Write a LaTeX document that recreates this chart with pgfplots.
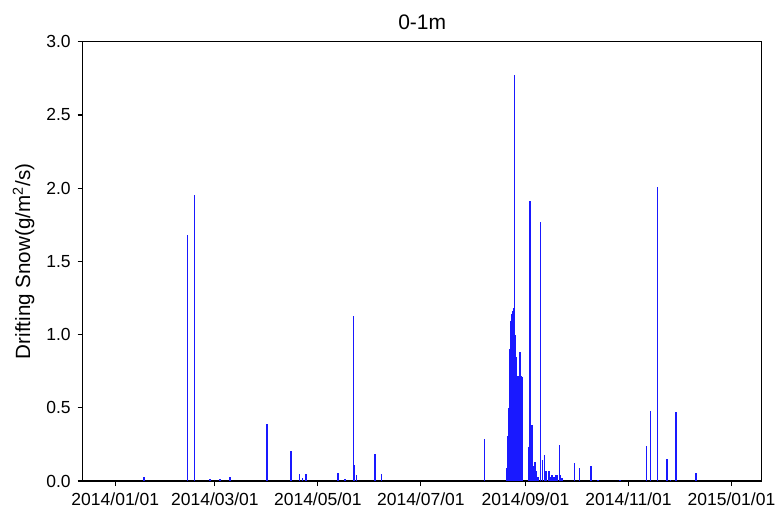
\documentclass[border=0pt]{standalone}
\usepackage{pgfplots}
\pgfplotsset{compat=1.18}
\usepackage{fontspec}
\setmainfont{Liberation Sans}
\begin{document}
\begin{tikzpicture}
\begin{axis}[
  name=ax,
  scale only axis,
  width=339.5bp, height=219.65bp,
  xmin=-19.3, xmax=382.9,
  ymin=0, ymax=3,
  xtick={0,59,120,181,243,304,365},
  xticklabels={2014/01/01,2014/03/01,2014/05/01,2014/07/01,2014/09/01,2014/11/01,2015/01/01},
  ytick={0,0.5,1,1.5,2,2.5,3},
  yticklabel style={/pgf/number format/.cd, fixed, fixed zerofill, precision=1, assume math mode=true},
  tick pos=left,
  tick align=outside,
  major tick length=2.5bp,
  axis line style={line width=0.6bp},
  every tick/.style={black, line width=0.6bp},
  tick label style={font=\fontsize{8.75bp}{10bp}\selectfont},
  title={0-1m},
  every axis title/.style={font=\fontsize{10.5bp}{12bp}\selectfont, at={(0.5,1)}, anchor=base, yshift=6.2bp},
  ylabel={Drifting Snow(g/m\textsuperscript{2}/s)},
  every axis y label/.style={font=\fontsize{10.3bp}{12bp}\selectfont, at={([xshift=-29.6bp]axis description cs:0,0.5)}, anchor=center, rotate=90},
]
\addplot[ycomb, no marks, color=blue!90!white, line width=0.75bp] coordinates {
(17,0.03) (42.9,1.68) (47.0,1.95) (56,0.012) (62,0.012) (68,0.03)
(90,0.39) (104,0.205) (109,0.045) (111,0.02) (113,0.05) (132,0.055) (136,0.015)
(141.0,1.13) (141.8,0.11) (143,0.04) (153.9,0.185) (157.8,0.05)
(218.8,0.29)
(231.9,0.087) (232.3,0.2) (232.7,0.31) (233.1,0.5) (233.5,0.67) (233.9,0.9)
(234.3,1.09) (234.7,1.13) (235.1,1.14) (235.5,1.16) (235.9,1.18) (236.5,2.77)
(236.9,1.0) (237.3,0.85) (237.7,0.8) (238.1,0.72) (238.5,0.71) (238.9,0.72)
(239.3,0.72) (239.7,0.88) (240.1,0.75) (240.5,0.72) (240.9,0.71) (241.3,0.05)
(244.7,0.23) (245.7,1.91) (246.3,0.2) (246.9,0.38) (247.6,0.1) (248.6,0.13)
(249.6,0.07) (250.4,0.03) (252.0,1.77) (253.2,0.14) (254.2,0.18) (255.2,0.07)
(256.8,0.07) (257.5,0.03) (258.7,0.04) (259.9,0.03) (260.8,0.04) (261.7,0.04)
(263.0,0.245) (263.7,0.04) (264.6,0.02) (271.9,0.125) (275.1,0.087) (281.8,0.105)
(285.8,0.01)
(299,0.005) (314.8,0.24) (317.0,0.48) (321.1,2.005) (326.8,0.15) (329.0,0.01)
(332.0,0.47) (344.0,0.057)
};
\end{axis}
\pgfresetboundingbox
\path ([xshift=-41.35bp, yshift=-18bp]ax.south west) rectangle ([xshift=8.15bp, yshift=20.85bp]ax.north east);
\end{tikzpicture}
\end{document}
